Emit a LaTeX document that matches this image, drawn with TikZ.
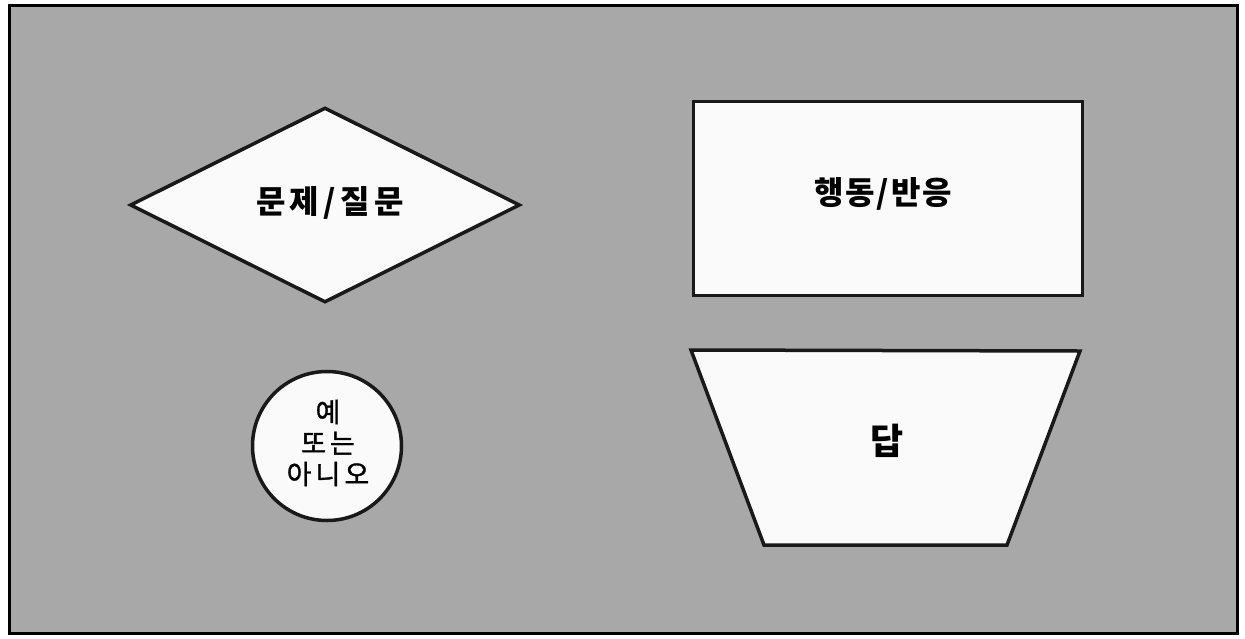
\documentclass[tikz,border=0pt]{standalone}
\usepackage{fontspec}
\newfontfamily\kr{Noto Sans CJK KR}
\newfontfamily\krcirc{Noto Sans CJK KR}[FakeBold=1.2]
\usetikzlibrary{shapes.geometric}
\definecolor{bggray}{RGB}{168,168,168}
\definecolor{shapefill}{RGB}{250,250,250}
\tikzset{
  shapeline/.style={draw=black!90, line width=3.5pt, fill=shapefill, line join=miter},
  labelbold/.style={font=\kr\bfseries\fontsize{32}{36}\selectfont, inner sep=0pt},
  labelcirc/.style={font=\krcirc\fontsize{27}{31}\selectfont\addfontfeature{LetterSpace=15}, align=center, inner sep=0pt}
}
\begin{document}
\begin{tikzpicture}[x=1pt,y=-1pt]
\useasboundingbox (0,0) rectangle (1245,638);
\fill[white] (0,0) rectangle (1245,638);
\draw[fill=bggray, line width=3pt] (9,5) rectangle (1237,633);
% diamond
\node[shapeline, shape=diamond, minimum width=390pt, minimum height=195pt, inner sep=0pt] (q) at (325,205) {};
\node[labelbold, font=\kr\bfseries\fontsize{32}{36}\selectfont\addfontfeature{LetterSpace=14}] (qt) at (330,203) {문제/질문};
% rectangle
\node[shapeline, shape=rectangle, minimum width=389pt, minimum height=194pt, inner sep=0pt] (act) at (888,198.5) {};
\node[labelbold, font=\kr\bfseries\fontsize{32}{36}\selectfont\addfontfeature{LetterSpace=6}] (actt) at (883,194) {행동/반응};
% trapezoid
\coordinate (t1) at (691,350);
\coordinate (t2) at (1080,351);
\coordinate (t3) at (1007,545);
\coordinate (t4) at (764,545);
\draw[shapeline] (t1) -- (t2) -- (t3) -- (t4) -- cycle;
\node[labelbold, font=\kr\bfseries\fontsize{36}{40}\selectfont] (ans) at (887,441) {답};
% circle
\node[shapeline, shape=circle, minimum size=149pt, inner sep=0pt] (yn) at (327,446) {};
\node[labelcirc] (ynt) at (328,443) {예\\또는\\아니오};
\end{tikzpicture}
\end{document}
